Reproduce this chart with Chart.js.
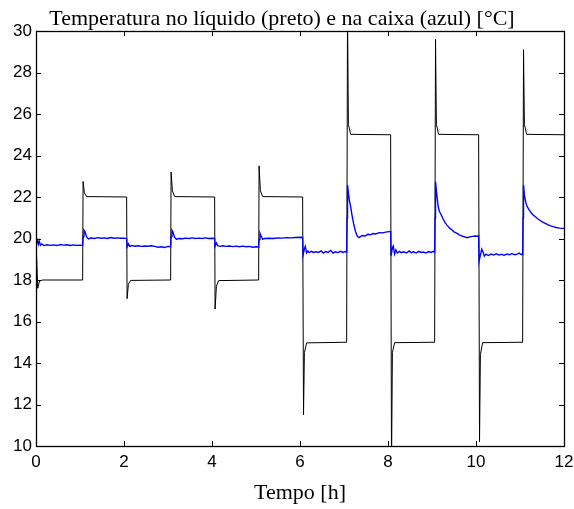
<!DOCTYPE html>
<html>
<head>
<meta charset="utf-8">
<script src="https://cdn.jsdelivr.net/npm/chart.js@4"></script>
<style>
  html, body { margin: 0; padding: 0; background: #fff; }
  #wrap { width: 574px; height: 509px; }
</style>
</head>
<body>
<div id="wrap"><canvas id="myChart" width="574" height="509"></canvas></div>
<script>
// temperatura no liquido (preto) - tempo [h] e valor [°C]
var liquidTime = [0, 0.04, 0.08, 0.15, 1.06, 1.07, 1.1, 1.15, 2.06, 2.07, 2.1, 2.15,
    3.06, 3.07, 3.1, 3.15, 4.06, 4.07, 4.1, 4.15, 5.06, 5.07, 5.1, 5.15,
    6.06, 6.08, 6.1, 6.15, 7.06, 7.08, 7.1, 7.15, 8.06, 8.08, 8.1, 8.15,
    9.06, 9.08, 9.1, 9.15, 10.06, 10.08, 10.1, 10.15, 11.06, 11.08, 11.1, 11.15, 12];
var liquidTemp = [19.9, 17.6, 17.95, 18, 18, 22.75, 22.2, 22.02, 22, 17.1, 17.8, 17.98,
    18, 23.2, 22.3, 22.02, 22, 16.6, 17.7, 17.97, 18, 23.5, 22.3, 22.02,
    22, 11.5, 14.5, 14.97, 15, 31, 25.5, 25.02, 25, 9, 14.5, 14.98,
    15, 29.6, 25.5, 25.02, 25, 10.2, 14.4, 14.98, 15, 29.1, 25.5, 25.02, 25];

// temperatura na caixa (azul)
var boxTime = [0, 0.02, 0.05, 0.07, 0.1, 0.13, 0.18, 0.25, 0.32, 0.4, 0.48, 0.55, 0.63, 0.7, 0.78, 0.85, 0.93, 1.0, 1.06,
    1.07, 1.09, 1.11, 1.15, 1.19, 1.25, 1.33, 1.4, 1.48, 1.55, 1.62, 1.7, 1.78, 1.85, 1.92, 2.0, 2.06,
    2.07, 2.1, 2.13, 2.18, 2.25, 2.32, 2.4, 2.48, 2.55, 2.62, 2.7, 2.78, 2.85, 2.92, 3.0, 3.06,
    3.07, 3.09, 3.11, 3.15, 3.19, 3.25, 3.33, 3.4, 3.48, 3.55, 3.62, 3.7, 3.78, 3.85, 3.92, 4.0, 4.06,
    4.07, 4.1, 4.13, 4.18, 4.25, 4.32, 4.4, 4.48, 4.55, 4.62, 4.7, 4.78, 4.85, 4.92, 5.0, 5.06,
    5.07, 5.09, 5.12, 5.15, 5.2, 5.3, 5.4, 5.5, 5.6, 5.7, 5.8, 5.9, 6.0, 6.06,
    6.07, 6.1, 6.12, 6.15, 6.18, 6.21, 6.26, 6.3, 6.36, 6.42, 6.48, 6.53, 6.58, 6.64, 6.7, 6.75, 6.8, 6.86, 6.92, 6.98, 7.03, 7.06,
    7.07, 7.08, 7.1, 7.12, 7.15, 7.18, 7.22, 7.26, 7.3, 7.34, 7.38, 7.42, 7.48, 7.54, 7.6, 7.66, 7.72, 7.8, 7.88, 7.95, 8.02, 8.06,
    8.07, 8.1, 8.12, 8.15, 8.18, 8.21, 8.26, 8.3, 8.36, 8.42, 8.48, 8.53, 8.58, 8.64, 8.7, 8.75, 8.8, 8.86, 8.92, 8.98, 9.03, 9.06,
    9.07, 9.08, 9.1, 9.12, 9.14, 9.17, 9.2, 9.25, 9.3, 9.35, 9.4, 9.45, 9.5, 9.56, 9.62, 9.68, 9.74, 9.8, 9.86, 9.92, 9.98, 10.03, 10.06,
    10.07, 10.1, 10.13, 10.16, 10.19, 10.23, 10.28, 10.34, 10.4, 10.46, 10.52, 10.58, 10.64, 10.7, 10.76, 10.82, 10.88, 10.94, 10.98, 11.02, 11.06,
    11.07, 11.08, 11.1, 11.13, 11.16, 11.2, 11.25, 11.3, 11.35, 11.4, 11.45, 11.5, 11.56, 11.62, 11.68, 11.75, 11.82, 11.9, 11.96, 12];
var boxTemp = [20.0, 19.95, 19.72, 19.9, 19.68, 19.74, 19.66, 19.7, 19.67, 19.69, 19.66, 19.71, 19.68, 19.7, 19.66, 19.69, 19.67, 19.68, 19.66,
    20.1, 20.4, 20.35, 20.08, 19.98, 20.02, 20.0, 20.04, 20.01, 20.03, 20.0, 20.05, 20.01, 20.03, 20.01, 20.02, 20.0,
    19.6, 19.74, 19.62, 19.66, 19.63, 19.65, 19.62, 19.64, 19.63, 19.65, 19.62, 19.58, 19.6, 19.57, 19.62, 19.6,
    20.1, 20.4, 20.32, 20.05, 19.97, 20.0, 19.99, 20.02, 20.0, 20.03, 20.0, 20.02, 20.0, 20.03, 20.0, 20.01, 20.0,
    19.62, 19.78, 19.65, 19.62, 19.65, 19.62, 19.64, 19.61, 19.63, 19.6, 19.63, 19.6, 19.62, 19.58, 19.6, 19.58,
    19.95, 20.25, 20.1, 19.97, 20.0, 20.01, 20.0, 20.03, 20.02, 20.04, 20.03, 20.05, 20.06, 20.05,
    19.2, 19.5, 19.62, 19.3, 19.4, 19.32, 19.38, 19.33, 19.36, 19.33, 19.4, 19.3, 19.37, 19.33, 19.42, 19.3, 19.36, 19.32, 19.38, 19.33, 19.37, 19.34,
    21.0, 22.58, 22.2, 21.85, 21.55, 21.15, 20.7, 20.35, 20.12, 20.04, 20.1, 20.14, 20.12, 20.2, 20.18, 20.24, 20.22, 20.28, 20.27, 20.31, 20.33, 20.34,
    19.17, 19.55, 19.64, 19.25, 19.45, 19.3, 19.38, 19.32, 19.36, 19.3, 19.4, 19.32, 19.36, 19.3, 19.38, 19.33, 19.35, 19.3, 19.37, 19.33, 19.38, 19.34,
    21.0, 22.74, 22.3, 21.9, 21.54, 21.3, 21.18, 20.95, 20.75, 20.62, 20.5, 20.42, 20.32, 20.26, 20.18, 20.12, 20.08, 20.04, 20.08, 20.1, 20.12, 20.11, 20.13,
    18.92, 19.2, 19.49, 19.35, 19.15, 19.25, 19.18, 19.25, 19.2, 19.26, 19.2, 19.24, 19.19, 19.25, 19.22, 19.27, 19.22, 19.25, 19.3, 19.24, 19.22,
    21.0, 22.58, 22.1, 21.75, 21.55, 21.4, 21.25, 21.13, 21.05, 20.95, 20.88, 20.81, 20.74, 20.68, 20.62, 20.57, 20.53, 20.5, 20.49, 20.49];

var xTicks = [0, 2, 4, 6, 8, 10, 12];
var yTicks = [10, 12, 14, 16, 18, 20, 22, 24, 26, 28, 30];

function toPoints(xs, ys) {
    return xs.map(function (x, i) { return { x: x, y: ys[i] }; });
}

// moldura e marcas para dentro, nos quatro lados
var boxTicks = {
    id: 'boxTicks',
    afterDatasetsDraw: function (chart) {
        var c = chart.ctx, a = chart.chartArea;
        var sx = chart.scales.x, sy = chart.scales.y;
        var len = 5;
        c.save();
        c.strokeStyle = '#000';
        c.lineWidth = 1;
        c.beginPath();
        xTicks.forEach(function (v) {
            var px = Math.round(sx.getPixelForValue(v)) + 0.5;
            c.moveTo(px, a.bottom); c.lineTo(px, a.bottom - len);
            c.moveTo(px, a.top); c.lineTo(px, a.top + len);
        });
        yTicks.forEach(function (v) {
            var py = Math.round(sy.getPixelForValue(v)) + 0.5;
            c.moveTo(a.left, py); c.lineTo(a.left + len, py);
            c.moveTo(a.right, py); c.lineTo(a.right - len, py);
        });
        c.stroke();
        c.lineWidth = 1.3;
        c.strokeRect(Math.round(a.left) + 0.5, Math.round(a.top) + 0.5,
            Math.round(a.right - a.left), Math.round(a.bottom - a.top));
        c.restore();
    }
};

var ctx = document.getElementById('myChart').getContext('2d');

var chart = new Chart(ctx, {
    type: 'scatter',
    data: {
        datasets: [{
            label: 'Caixa',
            data: toPoints(boxTime, boxTemp),
            showLine: true,
            borderColor: '#0000ff',
            borderWidth: 1.4,
            pointRadius: 0,
            tension: 0
        },
        {
            label: 'Líquido',
            data: toPoints(liquidTime, liquidTemp),
            showLine: true,
            borderColor: '#000000',
            borderWidth: 1,
            pointRadius: 0,
            tension: 0
        }]
    },
    options: {
        responsive: false,
        animation: false,
        events: [],
        layout: { padding: { left: 0, right: 10, top: 0, bottom: 0 } },
        plugins: {
            legend: { display: false },
            tooltip: { enabled: false },
            title: {
                display: true,
                text: 'Temperatura no líquido (preto) e na caixa (azul) [°C]',
                color: '#000',
                font: { family: 'Liberation Serif', size: 22, weight: 'normal', lineHeight: 1 },
                padding: { top: 8, bottom: 1 }
            }
        },
        scales: {
            x: {
                type: 'linear',
                min: 0,
                max: 12,
                afterBuildTicks: function (scale) {
                    scale.ticks = xTicks.map(function (v) { return { value: v }; });
                },
                afterFit: function (scale) {
                    scale.height = 63;
                    scale.paddingLeft = 0;
                    scale.paddingRight = 0;
                },
                grid: { display: false, drawTicks: false },
                border: { display: false },
                ticks: {
                    color: '#000',
                    padding: 6,
                    maxRotation: 0,
                    font: { family: 'Liberation Sans', size: 17 }
                },
                title: {
                    display: true,
                    text: 'Tempo [h]',
                    color: '#000',
                    font: { family: 'Liberation Serif', size: 22 },
                    padding: { top: 0, bottom: 3 }
                }
            },
            y: {
                type: 'linear',
                min: 10,
                max: 30,
                afterBuildTicks: function (scale) {
                    scale.ticks = yTicks.map(function (v) { return { value: v }; });
                },
                afterFit: function (scale) {
                    scale.width = 36;
                    scale.paddingTop = 0;
                    scale.paddingBottom = 0;
                },
                grid: { display: false, drawTicks: false },
                border: { display: false },
                ticks: {
                    color: '#000',
                    padding: 4,
                    font: { family: 'Liberation Sans', size: 17 }
                }
            }
        }
    },
    plugins: [boxTicks]
});
</script>
</body>
</html>
